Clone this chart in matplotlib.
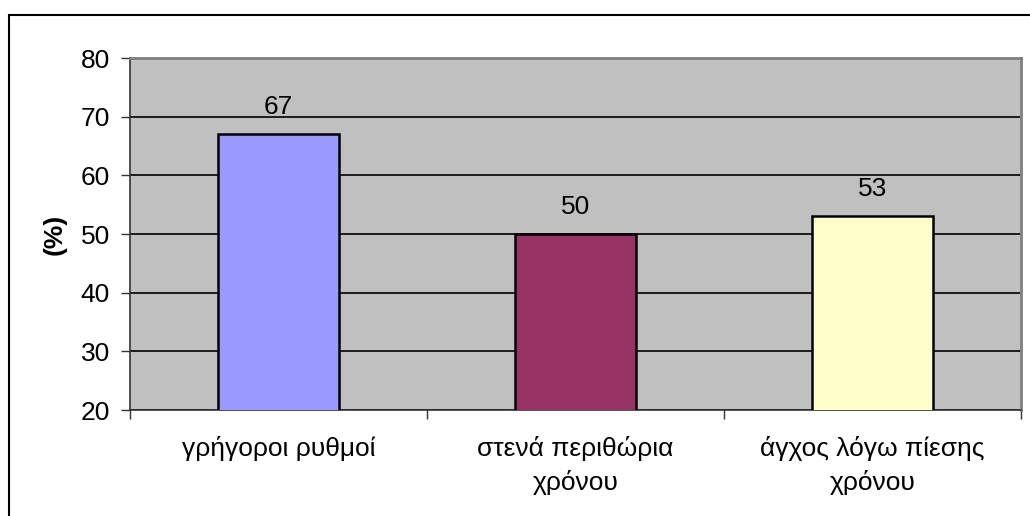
import matplotlib
matplotlib.use("Agg")
import matplotlib.pyplot as plt
from matplotlib.patches import Rectangle

categories = ["γρήγοροι ρυθμοί", "στενά περιθώρια\nχρόνου", "άγχος λόγω πίεσης\nχρόνου"]
values = [67, 50, 53]
colors = ["#9999FF", "#993366", "#FFFFCC"]
y_ticks = [20, 30, 40, 50, 60, 70, 80]

plt.rcParams["font.family"] = ["Liberation Sans", "DejaVu Sans"]
FS = 19

W, H = 1030, 516
fig = plt.figure(figsize=(W / 100, H / 100), dpi=100)

# outer chart frame
fig.patches.append(Rectangle((9 / W, -0.1), 1.2, (H - 15) / H + 0.1,
                             transform=fig.transFigure, fill=False,
                             edgecolor="black", linewidth=1.5))

ax = fig.add_axes([130 / W, 1 - 410 / H, (1021 - 130) / W, (410 - 58) / H])
ax.set_facecolor("#C0C0C0")

x = list(range(len(categories)))
ax.bar(x, values, width=0.405, color=colors, edgecolor="black", linewidth=1.8, zorder=3)
for xi, v in zip(x, values):
    ax.text(xi, v + 2.6, str(v), ha="center", va="bottom", fontsize=FS, color="black")

ax.set_xlim(-0.5, len(categories) - 0.5)
ax.set_ylim(20, 80)
ax.set_yticks(y_ticks)
ax.set_yticklabels([str(t) for t in y_ticks], fontsize=FS)
ax.yaxis.grid(True, color="black", linewidth=1.2, zorder=1)
ax.set_axisbelow(True)

# category labels centred, ticks at category boundaries
ax.set_xticks([i - 0.5 for i in range(len(categories) + 1)])
ax.set_xticklabels([])
ax.tick_params(axis="x", length=6.5, width=1, color="#333333")
ax.tick_params(axis="y", length=6.5, width=1, color="#333333", pad=8)
for xi, c in zip(x, categories):
    ax.text(xi, -0.075, c, transform=ax.get_xaxis_transform(), ha="center", va="top",
            fontsize=FS, linespacing=1.45)

ax.set_ylabel("(%)", fontsize=FS, fontweight="bold", labelpad=10)

for side in ["top", "right"]:
    ax.spines[side].set_color("#808080")
    ax.spines[side].set_linewidth(2)
for side in ["left", "bottom"]:
    ax.spines[side].set_color("#333333")
    ax.spines[side].set_linewidth(1.2)

fig.savefig("out.png", dpi=100)
